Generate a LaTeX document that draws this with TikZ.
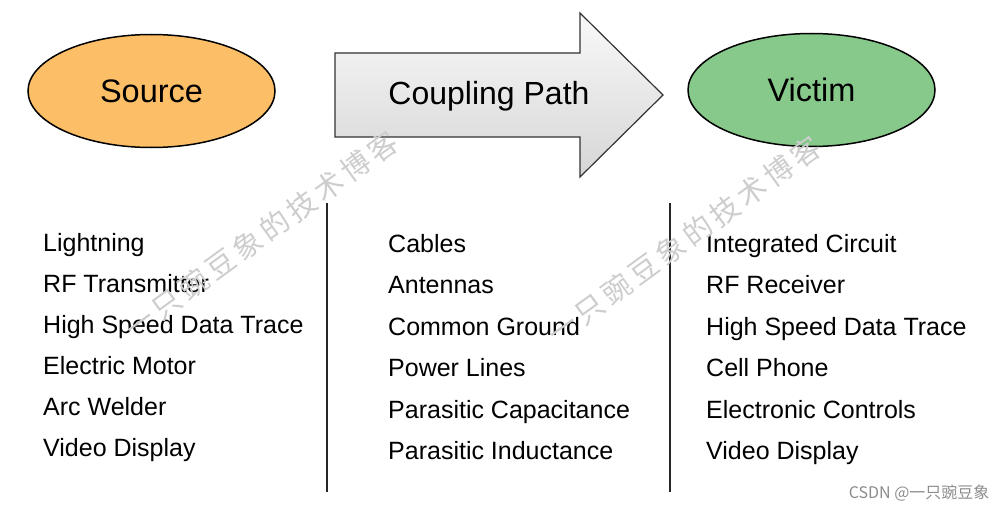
\documentclass[tikz,border=0pt]{standalone}
\usepackage{fontspec}
\setmainfont{Liberation Sans}
\newfontfamily\cjkfont{Noto Sans CJK SC}
\newfontfamily\markfont[LetterSpace=15]{Noto Sans CJK SC}
\usepackage{tikz}
\usetikzlibrary{shapes.geometric}
\definecolor{sourceorange}{RGB}{252,190,102}
\definecolor{victimgreen}{RGB}{134,201,138}
\definecolor{pathgrey}{RGB}{214,214,214}
\definecolor{edgegrey}{RGB}{50,50,50}
\definecolor{markgrey}{RGB}{205,205,205}
\tikzset{
  blob/.style={ellipse,draw=black,line width=1.5pt,minimum width=247pt,
    minimum height=113pt,inner sep=0pt,font=\fontsize{32.5}{38}\selectfont},
  itemtext/.style={anchor=base west,inner sep=0pt,
    font=\fontsize{25}{30}\selectfont},
  divider/.style={line width=2pt,draw=black!85},
  watermark/.style={text=markgrey,rotate=36,inner sep=0pt,
    font=\markfont\fontsize{29}{34}\selectfont}
}

\begin{document}
\begin{tikzpicture}[x=1pt,y=-1pt]
  \useasboundingbox (0,0) rectangle (997,511);
  \node[blob,fill=sourceorange] (source) at (151.5,91) {Source};
  \node[blob,fill=victimgreen] (victim) at (811.5,90) {Victim};
  % coupling path arrow
  \draw[draw=edgegrey,line width=1.2pt,top color=white!85!pathgrey,
      bottom color=pathgrey]
    (335,53) -- (580,53) -- (580,13) -- (663,95) -- (580,177) -- (580,137)
    -- (335,137) -- cycle;
  \node[font=\fontsize{32}{38}\selectfont] (path) at (489,96) {Coupling Path};
  \foreach \txt [count=\i] in {Lightning, RF Transmitter,
      High Speed Data Trace, Electric Motor, Arc Welder, Video Display}
    \node[itemtext] (src\i) at (43,{251+41*(\i-1)}) {\txt};
  \foreach \txt [count=\i] in {Cables, Antennas, Common Ground, Power Lines,
      Parasitic Capacitance, Parasitic Inductance}
    \node[itemtext] (cpl\i) at (388,{252+41.5*(\i-1)}) {\txt};
  \foreach \txt [count=\i] in {Integrated Circuit, RF Receiver,
      High Speed Data Trace, Cell Phone, Electronic Controls, Video Display}
    \node[itemtext] (vic\i) at (706,{252+41.5*(\i-1)}) {\txt};
  \coordinate (cutA top) at (327,203);
  \coordinate (cutA bot) at (327,492);
  \coordinate (cutB top) at (670,203);
  \coordinate (cutB bot) at (670,492);
  \draw[divider] (cutA top) -- (cutA bot);
  \draw[divider] (cutB top) -- (cutB bot);
  % blog marks
  \node[watermark] (markA) at (261,235) {一只豌豆象的技术博客};
  \node[watermark] (markB) at (684,240) {一只豌豆象的技术博客};
  \node[anchor=east,text=black!45,font=\cjkfont\fontsize{16}{19}\selectfont]
    (csdn) at (993,493) {CSDN @一只豌豆象};
\end{tikzpicture}
\end{document}
